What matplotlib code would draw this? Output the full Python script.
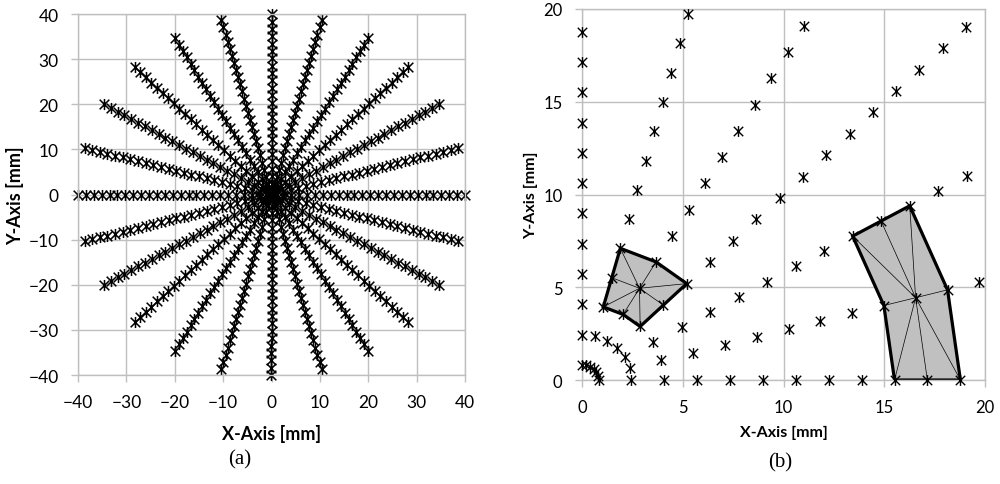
import numpy as np
import matplotlib
matplotlib.use("Agg")
import matplotlib.pyplot as plt
from matplotlib.path import Path
from matplotlib.patches import Polygon

# ray angles (deg) and radial node positions (mm) of the polar point cloud
angles_deg = [0, 15, 30, 45, 60, 75, 90, 105, 120, 135, 150, 165,
              180, 195, 210, 225, 240, 255, 270, 285, 300, 315, 330, 345]
radii = [0.82, 2.45, 4.08, 5.71, 7.35, 8.98, 10.61, 12.24, 13.88, 15.51,
         17.14, 18.78, 20.41, 22.04, 23.67, 25.31, 26.94, 28.57, 30.20,
         31.84, 33.47, 35.10, 36.73, 38.37, 40.00]

# two 9-node elements shown in (b): ring indices and ray angles
elem1_rings = [2, 3, 4]
elem1_angles = [45, 60, 75]
elem2_rings = [9, 10, 11]
elem2_angles = [0, 15, 30]

plt.rcParams['font.family'] = ['Lato', 'DejaVu Sans']

# excel-like star marker: x plus a vertical bar
star = Path([(-1, -1), (1, 1), (-1, 1), (1, -1), (0, -1.15), (0, 1.15)],
            [Path.MOVETO, Path.LINETO, Path.MOVETO, Path.LINETO, Path.MOVETO, Path.LINETO])

rr, aa = np.meshgrid(radii, np.radians(angles_deg))
xs = (rr * np.cos(aa)).ravel()
ys = (rr * np.sin(aa)).ravel()

grid_c = '#bfbfbf'

fig = plt.figure(figsize=(10, 4.85), dpi=100)
ax1 = fig.add_axes([0.078, 0.2247, 0.387, 0.744])
ax2 = fig.add_axes([0.582, 0.2144, 0.403, 0.765])


def style(ax, lim, step, fs):
    ax.set_xlim(*lim)
    ax.set_ylim(*lim)
    ticks = np.arange(lim[0], lim[1] + step, step)
    ax.set_xticks(ticks)
    ax.set_yticks(ticks)
    ax.grid(True, color=grid_c, linewidth=1)
    ax.set_axisbelow(True)
    for s in ax.spines.values():
        s.set_color(grid_c)
        s.set_linewidth(1)
    ax.tick_params(length=5, width=1, color=grid_c, pad=9, labelsize=fs)


style(ax1, (-40, 40), 10, 12.5)
ax1.plot(xs, ys, linestyle='None', marker=star, markersize=8, markeredgewidth=1.1,
         color='black', clip_on=False)
ax1.set_xlabel('X-Axis [mm]', fontsize=13, fontweight='bold')
ax1.set_ylabel('Y-Axis [mm]', fontsize=13, fontweight='bold')
ax1.xaxis.set_label_coords(0.5, -0.135)
ax1.yaxis.set_label_coords(-0.14, 0.5)

style(ax2, (0, 20), 5, 12)


def element(rings, angs):
    r = [radii[i] for i in rings]
    t = np.radians(angs)
    ring = [(r[0], t[0]), (r[0], t[1]), (r[0], t[2]), (r[1], t[2]),
            (r[2], t[2]), (r[2], t[1]), (r[2], t[0]), (r[1], t[0])]
    pts = np.array([(a * np.cos(b), a * np.sin(b)) for a, b in ring])
    ctr = (r[1] * np.cos(t[1]), r[1] * np.sin(t[1]))
    return pts, ctr


for rings, angs in [(elem1_rings, elem1_angles), (elem2_rings, elem2_angles)]:
    pts, ctr = element(rings, angs)
    ax2.add_patch(Polygon(pts, closed=True, facecolor='#c0c0c0',
                          edgecolor='black', linewidth=2.3, zorder=2))
    for p in pts:
        ax2.plot([ctr[0], p[0]], [ctr[1], p[1]], color='black', linewidth=0.5, zorder=3)

inside = (xs > -0.01) & (ys > -0.01) & (xs <= 20.2) & (ys <= 20.2)
ax2.plot(xs[inside], ys[inside], linestyle='None', marker=star, markersize=7.8,
         markeredgewidth=1.0, color='black', clip_on=False, zorder=4)
ax2.set_xlabel('X-Axis [mm]', fontsize=11.5, fontweight='bold')
ax2.set_ylabel('Y-Axis [mm]', fontsize=11.5, fontweight='bold')
ax2.xaxis.set_label_coords(0.5, -0.121)
ax2.yaxis.set_label_coords(-0.109, 0.5)

fig.text(0.240, 1 - 460 / 485, '(a)', ha='center', va='center',
         fontsize=15, family='Liberation Serif')
fig.text(0.780, 1 - 463 / 485, '(b)', ha='center', va='center',
         fontsize=15, family='Liberation Serif')

fig.savefig('out.png', dpi=100)
